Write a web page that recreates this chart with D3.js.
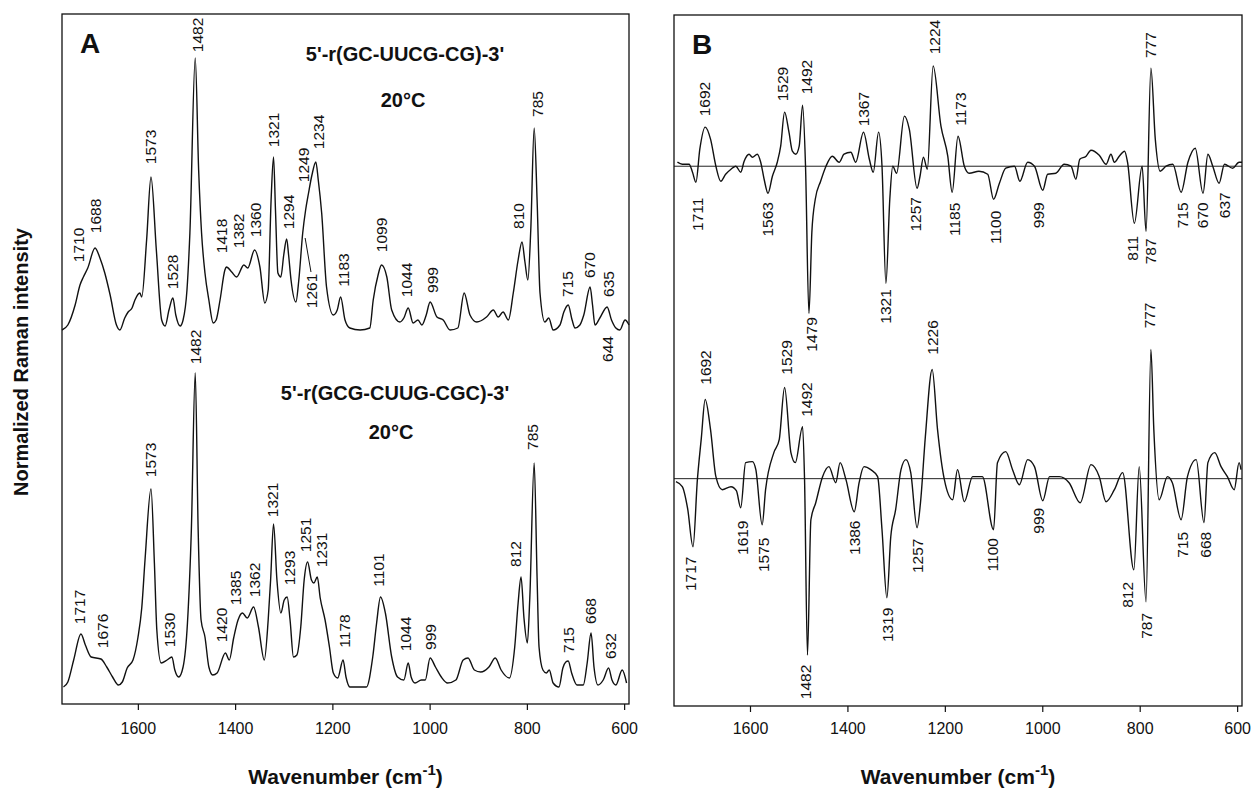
<!DOCTYPE html>
<meta charset="utf-8">
<script src="https://d3js.org/d3.v7.min.js"></script>
<style>
body { margin: 0; background: #fff; }
svg { font-family: "Liberation Sans", Arial, Helvetica, sans-serif; }
.frame { fill: none; stroke: #111; stroke-width: 1.3px; }
.trace { fill: none; stroke: #111; stroke-width: 1.4px; stroke-linejoin: round; }
.zero { stroke: #222; stroke-width: 1px; }
.peak { font-size: 15.5px; fill: #111; }
.axis text { font-size: 16px; fill: #111; }
.axis line { stroke: #111; stroke-width: 1.2px; }
.axis path { display: none; }
.ttl { font-weight: bold; fill: #111; }
</style>
<body>
<script>

// wavenumber axis (cm-1), reversed like the original
var wnRange = [1756, 590];
var xTicks = [1600, 1400, 1200, 1000, 800, 600];

// panel A, upper: 5'-r(GC-UUCG-CG)-3'  [wavenumber, intensity above baseline]
var specA1 = [[1756,0],[1744,5],[1729,25],[1719,45],[1712,53],[1703,62],[1688,82],[1678,72],[1668,57],[1657,35],
  [1644,5],[1637,0],[1627,12],[1620,18],[1612,22],[1606,30],[1596,37],[1592,33],[1582,90],[1573,153],
  [1562,80],[1551,10],[1544,4],[1536,20],[1528,32],[1522,15],[1513,4],[1507,10],[1499,40],[1493,97],
  [1482,272],[1475,160],[1469,97],[1462,57],[1454,30],[1445,7],[1439,10],[1431,30],[1421,60],[1418,63],
  [1407,58],[1397,53],[1382,65],[1374,62],[1360,80],[1349,63],[1339,27],[1332,40],[1326,130],[1321,173],
  [1317,120],[1312,57],[1306,53],[1300,75],[1294,91],[1290,75],[1285,50],[1275,28],[1269,50],[1261,97],
  [1255,120],[1249,137],[1242,155],[1234,168],[1229,150],[1222,117],[1212,43],[1198,15],[1190,20],[1183,33],
  [1174,10],[1164,2],[1143,0],[1123,2],[1116,30],[1106,55],[1099,65],[1088,53],[1078,20],[1061,8],
  [1053,12],[1044,22],[1034,7],[1024,10],[1016,5],[1007,15],[999,28],[985,13],[972,10],[958,0],
  [942,2],[929,37],[917,15],[903,8],[883,13],[869,20],[859,13],[849,18],[838,10],[828,37],
  [818,70],[810,88],[804,68],[798,50],[792,100],[785,202],[779,130],[773,37],[763,8],[755,12],
  [746,0],[732,5],[724,18],[715,25],[707,10],[701,2],[691,5],[683,15],[670,43],[665,25],
  [660,5],[650,12],[635,23],[626,10],[617,2],[609,0],[598,10],[590,5]];

// panel A, lower: 5'-r(GCG-CUUG-CGC)-3'
var specA2 = [[1753,1],[1744,6],[1732,28],[1717,54],[1708,43],[1696,31],[1676,29],[1664,21],[1652,11],[1640,3],
  [1632,6],[1622,20],[1610,28],[1600,50],[1592,80],[1585,130],[1573,199],[1566,125],[1561,58],[1552,25],
  [1540,28],[1530,31],[1524,18],[1516,11],[1507,21],[1498,65],[1490,158],[1482,315],[1476,158],[1470,68],
  [1462,51],[1454,21],[1446,13],[1437,15],[1420,35],[1412,28],[1403,50],[1394,68],[1385,75],[1375,70],
  [1362,81],[1352,61],[1340,28],[1332,68],[1327,108],[1321,164],[1314,108],[1306,75],[1299,88],[1293,91],
  [1287,68],[1280,31],[1273,33],[1265,61],[1258,108],[1251,126],[1243,108],[1238,105],[1231,111],[1225,90],
  [1215,68],[1206,41],[1198,15],[1189,10],[1178,28],[1172,11],[1164,1],[1130,1],[1117,31],[1109,65],
  [1101,91],[1091,75],[1078,31],[1066,11],[1053,8],[1044,25],[1038,11],[1030,5],[1017,8],[1009,8],
  [999,30],[988,21],[976,11],[963,5],[946,8],[931,28],[921,30],[908,18],[895,16],[878,21],
  [865,30],[853,18],[836,10],[825,41],[818,85],[812,111],[806,70],[799,45],[794,90],[785,225],
  [779,110],[775,41],[767,18],[760,15],[754,18],[746,5],[734,1],[726,20],[720,26],[715,27],
  [708,15],[697,3],[684,3],[676,25],[668,55],[662,21],[654,3],[643,8],[632,20],[625,8],
  [617,3],[604,18],[595,5]];

// panel B, upper difference spectrum
var specB1 = [[1749,4],[1739,2],[1725,2],[1718,-6],[1711,-16],[1703,17],[1692,39],[1681,27],[1670,0],[1660,-15],
  [1650,-8],[1639,-3],[1629,0],[1619,-6],[1612,5],[1602,12],[1595,9],[1585,12],[1578,4],[1571,-13],
  [1563,-27],[1554,-10],[1544,4],[1537,20],[1529,54],[1520,34],[1513,15],[1506,12],[1499,20],[1492,61],
  [1486,0],[1479,-147],[1473,-66],[1466,-33],[1455,-15],[1444,0],[1431,10],[1417,4],[1407,12],[1393,14],
  [1383,4],[1367,34],[1355,7],[1347,-6],[1336,34],[1329,0],[1321,-117],[1313,-33],[1307,0],[1299,-7],
  [1283,50],[1273,37],[1257,-22],[1251,-10],[1244,9],[1236,-3],[1224,100],[1208,40],[1194,10],[1185,-26],
  [1173,30],[1160,0],[1150,-7],[1130,-5],[1112,-8],[1100,-33],[1088,-17],[1075,-2],[1057,0],[1046,-15],
  [1030,4],[1016,0],[999,-24],[989,-8],[972,-7],[955,2],[941,0],[931,-13],[923,7],[910,10],
  [900,16],[883,11],[869,2],[859,12],[852,4],[842,10],[831,15],[825,4],[811,-57],[795,0],
  [787,-65],[777,98],[768,27],[758,-5],[746,0],[732,2],[715,-26],[701,4],[686,18],[670,-27],
  [660,12],[650,0],[637,-17],[626,2],[609,-2],[596,4],[590,4]];

// panel B, lower difference spectrum
var specB2 = [[1752,-3],[1739,-8],[1728,-30],[1717,-68],[1708,-1],[1700,40],[1692,79],[1681,49],[1670,2],[1657,-11],
  [1639,-8],[1628,-12],[1619,-29],[1609,16],[1595,17],[1588,9],[1575,-46],[1568,-11],[1551,26],[1540,39],
  [1529,91],[1516,26],[1507,16],[1492,52],[1488,-1],[1482,-176],[1475,-41],[1465,-24],[1451,2],[1438,12],
  [1424,-4],[1415,16],[1403,-1],[1386,-33],[1376,-4],[1366,12],[1352,9],[1338,2],[1329,-51],[1319,-119],
  [1311,-58],[1301,-31],[1290,9],[1280,19],[1270,6],[1257,-49],[1250,-24],[1240,42],[1226,109],[1215,49],
  [1201,-1],[1184,-21],[1174,9],[1160,-23],[1143,2],[1123,2],[1100,-51],[1092,16],[1075,27],[1061,9],
  [1047,-6],[1030,19],[1016,12],[999,-22],[985,2],[965,2],[945,-4],[922,-24],[900,14],[883,2],
  [869,-23],[852,-11],[835,6],[812,-91],[801,12],[787,-123],[777,129],[771,49],[760,-21],[743,2],
  [733,-4],[715,-41],[702,2],[684,19],[668,-44],[660,16],[646,26],[633,12],[620,2],[606,-11],
  [596,16],[592,9]];

// peak labels: [text, wavenumber of label, intensity of label centre]
var peaksA1 = [["1710",1723,85],["1688",1688,114],["1573",1575,183],["1528",1528,58],["1482",1478,295],
  ["1418",1427,94],["1382",1394,99],["1360",1359,110],["1321",1322,200],["1294",1291,118],["1249",1260,165],
  ["1234",1228,198],["1261",1242,39],["1183",1178,60],["1099",1098,95],["1044",1047,50],["999",995,50],
  ["810",818,114],["785",779,226],["715",716,46],["670",672,65],["635",633,46],["644",635,-19]];
var peaksA2 = [["1717",1719,81],["1676",1673,57],["1573",1575,228],["1530",1534,58],["1482",1482,341],
  ["1420",1428,63],["1385",1400,100],["1362",1361,108],["1321",1323,188],["1293",1289,120],["1251",1256,153],
  ["1231",1222,138],["1178",1175,57],["1101",1106,118],["1044",1049,54],["999",998,51],["812",823,134],
  ["785",788,251],["715",715,48],["668",669,77],["632",629,42]];
var peaksB1 = [["1692",1694,67],["1529",1534,82],["1492",1485,89],["1367",1366,57],["1224",1222,129],
  ["1173",1167,57],["777",777,121],["1711",1707,-48],["1563",1565,-53],["1479",1474,-168],["1321",1321,-140],
  ["1257",1261,-48],["1185",1181,-53],["1100",1095,-61],["999",1008,-49],["811",815,-82],["787",777,-85],
  ["715",712,-49],["670",671,-49],["637",626,-39]];
var peaksB2 = [["1692",1691,111],["1529",1526,121],["1492",1485,79],["1226",1226,141],["777",780,163],
  ["1717",1722,-95],["1619",1616,-59],["1575",1573,-76],["1386",1386,-59],["1319",1318,-146],["1257",1256,-77],
  ["1482",1487,-203],["1100",1102,-76],["999",1008,-42],["812",825,-116],["787",786,-147],["715",712,-66],
  ["668",664,-66]];

// leader line to the 1261 shoulder (panel A upper)
var leaderA1 = [[1256,92],[1244,58]];

var W = 1251, H = 790;
var svg = d3.select('body').append('svg')
  .attr('width', W).attr('height', H);

var panels = [
  {id: 'A', x0: 62, x1: 629, y0: 14, y1: 704, pad: 13, zero: false,
   traces: [{data: specA1, peaks: peaksA1, off: 374}, {data: specA2, peaks: peaksA2, off: 16}],
   titles: [{t: "5'-r(GC-UUCG-CG)-3'", x: 405, y: 61}, {t: '20\u00b0C', x: 403, y: 107},
            {t: "5'-r(GCG-CUUG-CGC)-3'", x: 395, y: 400}, {t: '20\u00b0C', x: 391, y: 439}]},
  {id: 'B', x0: 674, x1: 1242, y0: 15, y1: 706, pad: 11, zero: true,
   traces: [{data: specB1, peaks: peaksB1, off: 539}, {data: specB2, peaks: peaksB2, off: 227}],
   titles: []}
];

panels.forEach(function(p) {
  var x = d3.scaleLinear().domain(wnRange).range([p.x0, p.x1]);
  var y = d3.scaleLinear().domain([0, 690]).range([p.y1, p.y0]);
  var g = svg.append('g');

  // zero lines of difference spectra
  if (p.zero) {
    p.traces.forEach(function(tr) {
      g.append('line').attr('class', 'zero')
        .attr('x1', p.x0).attr('x2', p.x1)
        .attr('y1', y(tr.off)).attr('y2', y(tr.off));
    });
  }

  p.traces.forEach(function(tr) {
    var line = d3.line()
      .x(function(d) { return x(d[0]); })
      .y(function(d) { return y(d[1] + tr.off); })
      .curve(d3.curveMonotoneX);

    g.append('path').datum(tr.data)
      .attr('class', 'trace')
      .attr('d', line);

    g.selectAll(null).data(tr.peaks).enter().append('text')
      .attr('class', 'peak')
      .attr('text-anchor', 'middle')
      .attr('dominant-baseline', 'central')
      .attr('transform', function(d) {
        return 'translate(' + x(d[1]) + ',' + y(d[2] + tr.off) + ') rotate(-90)';
      })
      .text(function(d) { return d[0]; });
  });

  if (p.id === 'A') {
    g.append('line').attr('stroke', '#111').attr('stroke-width', 1)
      .attr('x1', x(leaderA1[0][0])).attr('y1', y(leaderA1[0][1] + 374))
      .attr('x2', x(leaderA1[1][0])).attr('y2', y(leaderA1[1][1] + 374));
  }

  g.append('rect').attr('class', 'frame')
    .attr('x', p.x0).attr('y', p.y0)
    .attr('width', p.x1 - p.x0).attr('height', p.y1 - p.y0);

  g.append('g').attr('class', 'axis')
    .attr('transform', 'translate(0,' + p.y1 + ')')
    .call(d3.axisBottom(x).tickValues(xTicks).tickSize(6).tickSizeOuter(0)
      .tickPadding(p.pad).tickFormat(d3.format('d')));

  // panel letter
  g.append('text').attr('class', 'ttl')
    .attr('x', p.x0 + 18).attr('y', p.y0 + 39)
    .style('font-size', '28px')
    .text(p.id);

  p.titles.forEach(function(t) {
    g.append('text').attr('class', 'ttl')
      .attr('x', t.x).attr('y', t.y)
      .attr('text-anchor', 'middle')
      .style('font-size', '20px')
      .text(t.t);
  });

  // x title with superscript
  var xt = g.append('text').attr('class', 'ttl')
    .attr('x', (p.x0 + p.x1) / 2).attr('y', 784)
    .attr('text-anchor', 'middle')
    .style('font-size', '21px');
  xt.append('tspan').text('Wavenumber (cm');
  xt.append('tspan').attr('dy', -9).style('font-size', '15px').text('-1');
  xt.append('tspan').attr('dy', 9).text(')');
});

svg.append('text').attr('class', 'ttl')
  .attr('transform', 'translate(21,362) rotate(-90)')
  .attr('text-anchor', 'middle')
  .attr('dominant-baseline', 'central')
  .style('font-size', '20px')
  .text('Normalized Raman intensity');

</script>
</body>
